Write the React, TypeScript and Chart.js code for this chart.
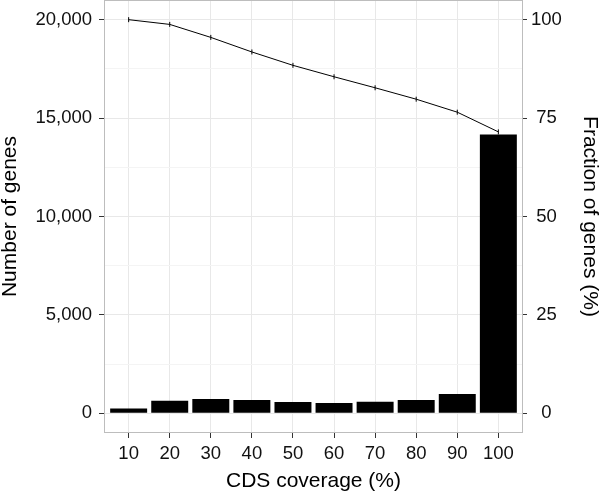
import { useEffect, useRef } from 'react';
import { Chart, registerables } from 'chart.js';

Chart.register(...registerables);

// ---- data ----
const coverageCategories = [10, 20, 30, 40, 50, 60, 70, 80, 90, 100];
const geneCounts = [250, 640, 725, 675, 575, 525, 590, 675, 980, 14160];
const fractionOfGenes = [100.0, 98.8, 95.5, 91.8, 88.4, 85.5, 82.7, 79.8, 76.5, 71.5];
const countTicks = [0, 5000, 10000, 15000, 20000];
const countMinorTicks = [2500, 7500, 12500, 17500];
const fractionTicks = [0, 25, 50, 75, 100];

const FONT = '"Liberation Sans", Arial, Helvetica, sans-serif';

function fmt(n: number): string {
  return n.toLocaleString('en-US');
}

export default function App() {
  const ref = useRef<HTMLCanvasElement>(null);

  useEffect(() => {
    document.body.style.margin = '0';
    const panelBorder = {
      id: 'panelBorder',
      afterDatasetsDraw(chart: any) {
        const { ctx, chartArea: a } = chart;
        ctx.save();
        ctx.strokeStyle = '#bdbdbd';
        ctx.lineWidth = 1;
        ctx.strokeRect(a.left + 0.5, a.top + 0.5, a.right - a.left - 1, a.bottom - a.top - 1);
        ctx.restore();
      },
    };

    const isMajor = (v: number) => countTicks.includes(v);
    const noPad = (s: any) => {
      s.paddingTop = 0;
      s.paddingBottom = 0;
      s.paddingLeft = 0;
      s.paddingRight = 0;
    };

    const chart = new Chart(ref.current as HTMLCanvasElement, {
      type: 'bar',
      data: {
        datasets: [
          {
            type: 'line',
            label: 'Fraction of genes (%)',
            data: coverageCategories.map((x, i) => ({ x, y: fractionOfGenes[i] })),
            xAxisID: 'x',
            yAxisID: 'y1',
            borderColor: '#000',
            borderWidth: 1,
            pointStyle: 'line',
            pointRotation: 90,
            pointRadius: 2.5,
            pointHoverRadius: 2.5,
            pointBorderWidth: 1,
            pointBorderColor: '#000',
            pointBackgroundColor: '#000',
            tension: 0,
            fill: false,
            order: 0,
          } as any,
          {
            type: 'bar',
            label: 'Number of genes',
            data: coverageCategories.map((x, i) => ({ x, y: geneCounts[i] })),
            xAxisID: 'x',
            yAxisID: 'y',
            backgroundColor: '#000',
            borderWidth: 0,
            barPercentage: 0.9,
            categoryPercentage: 1,
            order: 1,
          } as any,
        ],
      },
      options: {
        responsive: false,
        animation: false,
        devicePixelRatio: 1,
        layout: { padding: 0, autoPadding: false },
        plugins: { legend: { display: false }, tooltip: { enabled: false } },
        scales: {
          x: {
            type: 'linear',
            position: 'bottom',
            min: 4,
            max: 106,
            offset: false,
            afterBuildTicks: (s: any) => {
              s.ticks = coverageCategories.map((v) => ({ value: v }));
            },
            afterFit: (s: any) => {
              s.height = 62;
              noPad(s);
            },
            grid: { offset: false, color: '#e8e8e8', tickColor: '#333', tickLength: 5, lineWidth: 1 },
            border: { display: false },
            ticks: {
              font: { family: FONT, size: 18.5 },
              color: '#111',
              padding: 5,
              maxRotation: 0,
              autoSkip: false,
              callback: (v: any) => String(v),
            },
            title: {
              display: true,
              text: 'CDS coverage (%)',
              font: { family: FONT, size: 21, lineHeight: 1 },
              color: '#000',
              padding: { top: 0, bottom: 3 },
            },
          },
          y: {
            type: 'linear',
            position: 'left',
            min: -1000,
            max: 21000,
            afterBuildTicks: (s: any) => {
              s.ticks = [...countTicks, ...countMinorTicks].sort((a, b) => a - b).map((v) => ({ value: v }));
            },
            afterFit: (s: any) => {
              s.width = 104;
              noPad(s);
            },
            grid: {
              color: (c: any) => (isMajor(c.tick?.value) ? '#e8e8e8' : '#f4f4f4'),
              tickColor: (c: any) => (isMajor(c.tick?.value) ? '#333' : 'rgba(0,0,0,0)'),
              tickLength: 5,
              lineWidth: 1,
            },
            border: { display: false },
            ticks: {
              font: { family: FONT, size: 18.5 },
              color: '#111',
              padding: 7,
              autoSkip: false,
              callback: (v: any) => (isMajor(v) ? fmt(v) : ''),
            },
            title: {
              display: true,
              text: 'Number of genes',
              font: { family: FONT, size: 21, lineHeight: 1 },
              color: '#000',
              padding: { top: 0, bottom: 0 },
            },
          },
          y1: {
            type: 'linear',
            position: 'right',
            min: -5,
            max: 105,
            afterBuildTicks: (s: any) => {
              s.ticks = fractionTicks.map((v) => ({ value: v }));
            },
            afterFit: (s: any) => {
              s.width = 77;
              noPad(s);
            },
            grid: { drawOnChartArea: false, tickColor: '#333', tickLength: 4 },
            border: { display: false },
            ticks: {
              font: { family: FONT, size: 18.5 },
              color: '#111',
              padding: 4,
              crossAlign: 'center',
              autoSkip: false,
              callback: (v: any) => String(v),
            },
            title: {
              display: true,
              text: 'Fraction of genes (%)',
              font: { family: FONT, size: 21, lineHeight: 1 },
              color: '#000',
              padding: { top: 0, bottom: 0 },
            },
          },
        },
      } as any,
      plugins: [panelBorder],
    });
    return () => chart.destroy();
  }, []);

  return <canvas ref={ref} width={600} height={495} style={{ display: 'block', width: 600, height: 495 }} />;
}
